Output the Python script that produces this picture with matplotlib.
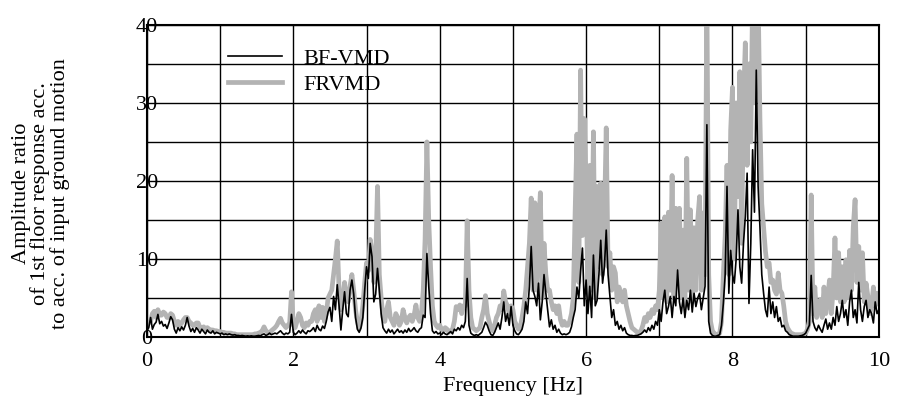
import numpy as np
import matplotlib
matplotlib.use("Agg")
import matplotlib.pyplot as plt

plt.rcParams['font.family'] = ['Liberation Serif', 'DejaVu Serif']

bf_vmd = [
    0.8, 1.2, 2.5, 1.0, 1.6, 1.9, 2.9, 1.7, 2.0, 1.4,
    1.6, 1.1, 1.8, 2.6, 2.2, 1.0, 0.5, 1.2, 0.8, 1.3,
    0.9, 1.5, 2.5, 1.4, 0.7, 1.1, 0.6, 1.2, 0.9, 0.5,
    1.0, 0.7, 0.4, 0.9, 0.6, 0.5, 0.8, 0.4, 0.6, 0.5,
    0.4, 0.5, 0.3, 0.4, 0.3, 0.4, 0.3, 0.25, 0.3, 0.2,
    0.2, 0.15, 0.2, 0.15, 0.1, 0.15, 0.1, 0.15, 0.1, 0.1,
    0.15, 0.2, 0.15, 0.3, 0.4, 0.2, 0.3, 0.5, 0.3, 0.4,
    0.5, 0.4, 0.6, 0.8, 0.5, 0.3, 0.5, 0.4, 0.6, 2.9,
    0.6, 0.3, 0.5, 0.8, 0.5, 0.9, 0.6, 0.4, 0.8, 0.7,
    0.9, 1.2, 0.7, 1.5, 1.0, 0.8, 1.4, 1.1, 2.0, 3.2,
    3.8, 2.0, 5.2, 3.5, 6.7, 4.0, 0.9, 3.5, 5.8, 3.0,
    2.6, 6.0, 7.3, 5.5, 2.5, 1.0, 0.6, 1.2, 2.5, 6.0,
    9.0, 7.5, 12.0, 10.3, 4.5, 5.5, 8.8, 6.0, 3.0, 1.2,
    0.8, 0.5, 1.0, 0.6, 0.9, 0.4, 0.7, 1.0, 0.6, 0.8,
    0.5, 0.9, 0.6, 1.1, 0.7, 0.9, 1.2, 0.8, 0.6, 1.0,
    1.2, 2.8, 2.5, 10.7, 6.5, 3.0, 0.8, 0.5, 0.7, 0.4,
    0.5, 0.3, 0.6, 0.4, 0.3, 0.5, 0.7, 0.4, 1.0, 0.8,
    1.2, 0.9, 1.5, 1.2, 2.0, 7.5, 1.5, 0.5, 0.3, 0.2,
    0.3, 0.2, 0.4, 0.6, 1.2, 1.9, 1.5, 0.8, 0.3, 0.2,
    0.6, 1.2, 1.8, 1.0, 2.5, 4.5, 2.0, 3.0, 1.5, 3.9,
    1.5, 0.8, 0.4, 0.3, 0.6, 1.0, 2.0, 4.5, 3.0, 6.5,
    11.6, 6.0, 5.2, 4.0, 6.9, 2.2, 4.5, 8.0, 5.6, 3.5,
    1.3, 2.2, 1.0, 1.5, 0.6, 1.0, 0.5, 0.3, 0.4, 0.3,
    0.4, 0.6, 1.3, 2.5, 3.5, 6.4, 5.0, 8.5, 11.4, 4.0,
    7.3, 3.0, 6.5, 2.5, 10.5, 4.0, 4.7, 8.0, 12.4, 6.9,
    9.0, 13.7, 8.0, 5.2, 2.5, 3.5, 1.5, 2.0, 1.0, 1.5,
    0.8, 1.2, 0.5, 0.3, 0.2, 0.2, 0.15, 0.2, 0.2, 0.3,
    0.4, 0.6, 0.9, 0.6, 1.2, 0.8, 1.5, 1.0, 2.0, 1.5,
    3.5, 2.0, 4.5, 6.0, 3.0, 3.9, 5.2, 2.5, 5.2, 4.0,
    8.6, 4.5, 3.0, 5.0, 2.5, 4.7, 3.5, 6.0, 3.2, 5.6,
    3.9, 5.0, 5.6, 3.5, 5.0, 6.5, 27.2, 2.0, 0.5, 0.2,
    0.1, 0.1, 0.2, 0.3, 1.5, 4.3, 8.0, 19.3, 5.6, 11.1,
    8.0, 6.9, 10.0, 16.3, 9.0, 6.9, 12.0, 15.4, 21.0, 4.3,
    12.0, 24.0, 16.0, 34.2, 19.3, 14.1, 8.0, 5.6, 3.5, 2.6,
    6.4, 3.0, 4.5, 2.5, 3.9, 2.0, 2.5, 1.3, 1.5, 0.8,
    0.6, 0.3, 0.2, 0.1, 0.1, 0.1, 0.1, 0.15, 0.2, 0.3,
    0.5, 1.0, 1.5, 7.9, 2.0, 1.2, 0.8, 1.5, 1.0, 0.6,
    1.5, 2.3, 1.0, 1.8, 1.0, 2.5, 1.5, 3.9, 2.0, 3.0,
    4.7, 2.5, 3.5, 1.5, 4.5, 6.0, 2.5, 3.5, 1.8, 7.0,
    3.5, 2.0, 3.9, 4.7, 2.5, 3.5, 3.0, 1.8, 4.5, 3.0,
    3.5,
]

frvmd = [
    1.5, 1.8, 2.0, 3.0, 3.3, 2.5, 3.5, 2.8, 2.8, 3.2,
    3.0, 2.5, 2.5, 3.0, 2.8, 2.0, 1.5, 2.0, 1.5, 1.8,
    2.2, 2.5, 2.5, 2.0, 1.8, 1.5, 1.5, 1.8, 1.8, 1.2,
    1.2, 1.3, 1.0, 1.2, 1.0, 0.9, 0.9, 0.8, 0.8, 0.7,
    0.7, 0.6, 0.6, 0.5, 0.5, 0.5, 0.5, 0.4, 0.4, 0.3,
    0.3, 0.3, 0.3, 0.3, 0.3, 0.3, 0.3, 0.3, 0.3, 0.4,
    0.4, 0.5, 0.6, 0.8, 1.3, 0.8, 0.6, 0.5, 0.8, 1.0,
    1.2, 1.5, 2.0, 2.4, 1.8, 1.5, 1.2, 1.5, 1.8, 5.8,
    1.5, 1.2, 2.0, 3.0, 2.5, 1.5, 1.2, 1.8, 1.5, 2.0,
    2.0, 3.0, 3.5, 2.0, 4.0, 2.5, 3.8, 2.0, 3.0, 5.0,
    5.5, 6.0, 8.0, 10.0, 12.3, 6.0, 3.5, 5.0, 7.0, 5.0,
    4.5, 6.5, 8.0, 6.0, 3.5, 2.0, 1.0, 2.0, 4.0, 7.0,
    9.5, 8.5, 12.5, 11.0, 7.0, 10.0, 19.3, 8.0, 5.0, 2.5,
    2.0, 3.5, 4.5, 2.5, 2.0, 1.5, 3.0, 2.5, 1.5, 2.0,
    3.5, 2.5, 1.8, 2.5, 2.8, 2.0, 2.8, 4.1, 2.5, 2.0,
    3.0, 6.0, 12.5, 25.0, 15.0, 9.0, 4.0, 2.0, 1.5, 1.2,
    1.5, 1.0, 0.8, 1.2, 1.0, 0.6, 0.8, 1.0, 2.0, 3.9,
    3.5, 4.1, 3.0, 4.0, 4.0, 14.9, 6.0, 2.5, 1.2, 1.0,
    0.8, 1.0, 1.2, 2.5, 3.5, 5.3, 3.0, 2.0, 1.2, 0.8,
    1.5, 2.5, 3.0, 4.0, 3.5, 5.9, 4.5, 4.0, 3.0, 4.0,
    3.5, 2.0, 1.5, 1.0, 1.2, 2.5, 4.0, 6.0, 9.0, 12.0,
    17.8, 6.0, 17.2, 6.0, 14.0, 18.5, 5.0, 12.0, 8.0, 6.0,
    6.0, 4.5, 3.5, 4.0, 3.0, 4.0, 2.2, 1.5, 2.0, 1.5,
    1.5, 2.0, 3.0, 5.0, 16.0, 26.0, 7.0, 34.2, 13.0, 28.0,
    19.5, 5.0, 22.0, 6.0, 26.3, 5.0, 19.3, 9.0, 19.7, 8.0,
    15.0, 26.8, 9.0, 10.8, 6.0, 9.0, 8.2, 4.5, 6.4, 5.0,
    4.5, 6.0, 4.0, 3.0, 2.0, 1.2, 1.0, 0.8, 0.6, 0.6,
    0.8, 1.5, 2.5, 2.0, 3.0, 2.5, 3.5, 3.0, 4.0, 3.5,
    6.0, 14.6, 5.0, 15.4, 4.5, 16.0, 6.0, 20.7, 5.0, 16.5,
    9.0, 16.5, 5.0, 13.7, 4.0, 22.9, 6.0, 16.3, 4.5, 14.0,
    6.0, 15.0, 18.0, 6.0, 15.9, 8.0, 44.0, 8.0, 2.0, 0.8,
    0.5, 0.3, 0.3, 0.5, 2.0, 8.0, 12.9, 22.0, 8.0, 26.5,
    32.0, 10.0, 30.0, 18.0, 34.0, 12.0, 30.0, 37.7, 22.0, 35.0,
    25.0, 44.0, 30.0, 36.0, 44.0, 28.0, 17.1, 14.0, 11.0, 9.0,
    9.5, 7.0, 7.3, 6.0, 5.5, 8.2, 6.0, 5.6, 4.0, 2.0,
    1.2, 0.8, 0.5, 0.4, 0.3, 0.3, 0.3, 0.3, 0.3, 0.4,
    0.5, 1.0, 2.0, 18.2, 3.0, 6.4, 2.5, 4.0, 4.8, 2.5,
    6.4, 3.0, 5.0, 7.3, 3.0, 6.0, 12.7, 5.0, 10.8, 4.5,
    9.0, 4.5, 9.9, 5.0, 11.1, 6.0, 14.1, 17.6, 7.0, 11.6,
    6.0, 10.8, 4.5, 6.9, 5.2, 3.0, 3.9, 6.4, 4.0, 5.6,
    5.0,
]

f_bf = np.linspace(0, 10, len(bf_vmd))
f_fr = np.linspace(0, 10, len(frvmd))

xticks = [0, 2, 4, 6, 8, 10]
yticks = [0, 10, 20, 30, 40]
labels = ["BF-VMD", "FRVMD"]

FS = 16

fig = plt.figure(figsize=(9.07, 4.08), dpi=100)
ax = fig.add_axes([0.162, 0.174, 0.807, 0.765])

ax.plot(f_fr, frvmd, color="#b3b3b3", lw=3.4, label=labels[1], zorder=3)
ax.plot(f_bf, bf_vmd, color="black", lw=1.2, label=labels[0], zorder=4)

ax.set_xlim(0, 10)
ax.set_ylim(0, 40)
ax.set_xticks(np.arange(0, 11, 1), minor=True)
ax.set_yticks(np.arange(0, 41, 5), minor=True)
ax.set_xticks(xticks)
ax.set_yticks(yticks)
ax.set_xticklabels([str(v) for v in xticks])
ax.set_yticklabels([str(v) for v in yticks])
ax.grid(True, which="both", color="black", lw=1.0, zorder=1)
ax.set_axisbelow(True)
for s in ax.spines.values():
    s.set_linewidth(1.5)
    s.set_zorder(5)

ax.tick_params(axis="both", which="both", length=0, labelsize=FS)
ax.tick_params(axis="x", pad=11)
ax.tick_params(axis="y", pad=0)
for lbl in ax.get_yticklabels():
    lbl.set_horizontalalignment("center")

ax.set_xlabel("Frequency [Hz]", fontsize=FS, labelpad=4)
fig.text(0.045, 0.525, "Amplitude ratio\nof 1st floor response acc.\nto acc. of input ground motion",
         rotation=90, fontsize=FS, ha="center", va="center", multialignment="center",
         linespacing=0.98)

h, l = ax.get_legend_handles_labels()
leg = ax.legend([h[1], h[0]], [l[1], l[0]], loc="upper left", bbox_to_anchor=(0.111, 0.925),
                frameon=False, fontsize=FS, handlelength=2.4, handletextpad=1.0,
                labelspacing=0.25, borderpad=0, borderaxespad=0)

fig.savefig("out.png", dpi=100)
